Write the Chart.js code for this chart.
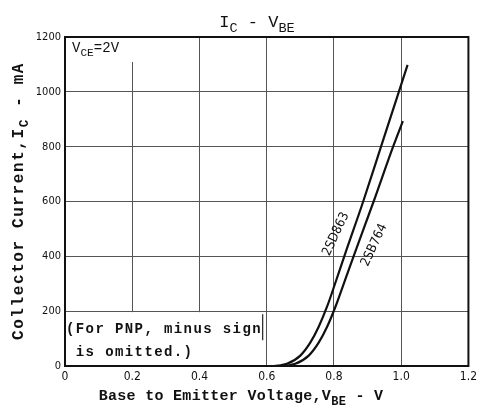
<!DOCTYPE html>
<html>
<head>
<meta charset="utf-8">
<script src="https://cdn.jsdelivr.net/npm/chart.js@4/dist/chart.umd.min.js"></script>
<style>
  html, body { margin: 0; padding: 0; background: #fff; }
  #chart { display: block; }
</style>
</head>
<body>
<canvas id="chart" width="481" height="412"></canvas>
<script>
// axis ticks
const xTickValues = [0, 0.2, 0.4, 0.6, 0.8, 1.0, 1.2];
const yTickValues = [0, 200, 400, 600, 800, 1000, 1200];

// 2SD863 curve (V_BE in V, I_C in mA)
const vbe2SD863 = [0.60, 0.62, 0.66, 0.70, 0.73, 0.755, 0.78, 0.806, 0.833, 0.887, 0.94, 0.993, 1.019];
const ic2SD863 = [0, 0, 8, 38, 86, 144, 218, 310, 408, 600, 800, 1000, 1098];

// 2SB764 curve
const vbe2SB764 = [0.62, 0.645, 0.685, 0.725, 0.755, 0.78, 0.805, 0.832, 0.86, 0.918, 0.976, 1.005];
const ic2SB764 = [0, 0, 8, 38, 86, 144, 218, 310, 405, 600, 800, 893];

const seriesNames = ['2SD863', '2SB764'];

function toPoints(xs, ys) {
    return xs.map((x, i) => ({ x: x, y: ys[i] }));
}

const MONO = '"Liberation Mono", "DejaVu Sans Mono", monospace';
const TICK_FONT = '"DejaVu Sans Condensed", "Liberation Sans", sans-serif';

// draws text with subscript parts, e.g. I + C
function drawSub(ctx, parts, x, y, size, weight, align) {
    ctx.save();
    ctx.textBaseline = 'alphabetic';
    ctx.textAlign = 'left';
    let total = 0;
    const widths = parts.map(p => {
        ctx.font = weight + ' ' + (p.sub ? size * 0.8 : size) + 'px ' + MONO;
        const w = ctx.measureText(p.t).width;
        total += w;
        return w;
    });
    let cx = align === 'center' ? x - total / 2 : x;
    parts.forEach((p, i) => {
        ctx.font = weight + ' ' + (p.sub ? size * 0.8 : size) + 'px ' + MONO;
        ctx.fillText(p.t, cx, p.sub ? y + size * 0.3 : y);
        cx += widths[i];
    });
    ctx.restore();
}

const decorations = {
    id: 'decorations',
    beforeDatasetsDraw(chart) {
        const { ctx, chartArea: a, scales } = chart;
        const x = scales.x, y = scales.y;
        ctx.save();
        // white panel behind the V_CE note
        ctx.fillStyle = '#fff';
        ctx.fillRect(a.left + 1, a.top + 1, 68, 24);
        // white panel behind the PNP note
        const noteTop = y.getPixelForValue(200);
        const noteRight = x.getPixelForValue(0.588);
        ctx.fillRect(a.left + 1, noteTop + 1, noteRight - a.left - 1, a.bottom - noteTop - 2);
        ctx.strokeStyle = '#222';
        ctx.lineWidth = 1.2;
        ctx.beginPath();
        ctx.moveTo(noteRight, noteTop + 3);
        ctx.lineTo(noteRight, noteTop + 29);
        ctx.stroke();
        ctx.restore();
    },
    afterDraw(chart) {
        const { ctx, chartArea: a, scales } = chart;
        const x = scales.x, y = scales.y;
        ctx.save();
        ctx.fillStyle = '#111';

        // frame
        ctx.strokeStyle = '#111';
        ctx.lineWidth = 2;
        ctx.strokeRect(a.left, a.top, a.right - a.left, a.bottom - a.top);

        // title
        drawSub(ctx, [{ t: 'I' }, { t: 'C', sub: true }, { t: ' - V' }, { t: 'BE', sub: true }],
            257, 27, 17, 'normal', 'center');

        // V_CE note
        drawSub(ctx, [{ t: 'V' }, { t: 'CE', sub: true }, { t: '=2V' }], a.left + 7, a.top + 15, 14, 'normal', 'left');

        // PNP note
        ctx.font = 'bold 14px ' + MONO;
        ctx.letterSpacing = '1.4px';
        ctx.textBaseline = 'alphabetic';
        ctx.fillText('(For PNP, minus sign', a.left + 1, y.getPixelForValue(200) + 22);
        ctx.fillText(' is omitted.)', a.left + 1, y.getPixelForValue(200) + 45);
        ctx.letterSpacing = '0px';

        // curve labels
        const labels = [
            { t: seriesNames[0], vx: 0.806, vy: 481 },
            { t: seriesNames[1], vx: 0.92, vy: 441 }
        ];
        ctx.font = '13px ' + TICK_FONT;
        ctx.textAlign = 'center';
        ctx.textBaseline = 'middle';
        labels.forEach(l => {
            ctx.save();
            ctx.translate(x.getPixelForValue(l.vx), y.getPixelForValue(l.vy));
            ctx.rotate(-65 * Math.PI / 180);
            ctx.fillText(l.t, 0, 0);
            ctx.restore();
        });

        // x axis title
        ctx.letterSpacing = '0.3px';
        drawSub(ctx, [{ t: 'Base to Emitter Voltage,V' }, { t: 'BE', sub: true }, { t: ' - V' }],
            241, 400, 15, 'bold', 'center');

        // y axis title
        ctx.save();
        ctx.translate(23, 201);
        ctx.rotate(-Math.PI / 2);
        ctx.letterSpacing = '1.6px';
        drawSub(ctx, [{ t: 'Collector Current,I' }, { t: 'C', sub: true }, { t: ' - mA' }],
            0, 0, 16, 'bold', 'center');
        ctx.restore();

        ctx.restore();
    }
};

new Chart(document.getElementById('chart'), {
    type: 'line',
    data: {
        datasets: [
            {
                label: seriesNames[0],
                data: toPoints(vbe2SD863, ic2SD863),
                borderColor: '#111',
                borderWidth: 2.2,
                pointRadius: 0,
                cubicInterpolationMode: 'monotone',
                fill: false
            },
            {
                label: seriesNames[1],
                data: toPoints(vbe2SB764, ic2SB764),
                borderColor: '#111',
                borderWidth: 2.2,
                pointRadius: 0,
                cubicInterpolationMode: 'monotone',
                fill: false
            }
        ]
    },
    options: {
        responsive: false,
        animation: false,
        devicePixelRatio: 1,
        layout: { padding: { top: 37, right: 12, left: 0, bottom: 0 } },
        plugins: {
            legend: { display: false },
            tooltip: { enabled: false },
            title: { display: false }
        },
        scales: {
            x: {
                type: 'linear',
                min: xTickValues[0],
                max: xTickValues[xTickValues.length - 1],
                afterBuildTicks(scale) {
                    scale.ticks = xTickValues.map(v => ({ value: v }));
                },
                afterFit(scale) { scale.height = 46; },
                grid: { color: '#555', lineWidth: 1, drawTicks: false },
                border: { color: '#111', width: 2 },
                ticks: {
                    padding: 4,
                    color: '#111',
                    font: { family: TICK_FONT, size: 12 },
                    callback: v => (v === 0 ? '0' : v.toFixed(1))
                }
            },
            y: {
                type: 'linear',
                min: yTickValues[0],
                max: yTickValues[yTickValues.length - 1],
                afterBuildTicks(scale) {
                    scale.ticks = yTickValues.map(v => ({ value: v }));
                },
                afterFit(scale) { scale.width = 65; },
                grid: { color: '#555', lineWidth: 1, drawTicks: false },
                border: { color: '#111', width: 2 },
                ticks: {
                    padding: 4,
                    color: '#111',
                    font: { family: TICK_FONT, size: 11 },
                    callback: v => String(v)
                }
            }
        }
    },
    plugins: [decorations]
});
</script>
</body>
</html>
